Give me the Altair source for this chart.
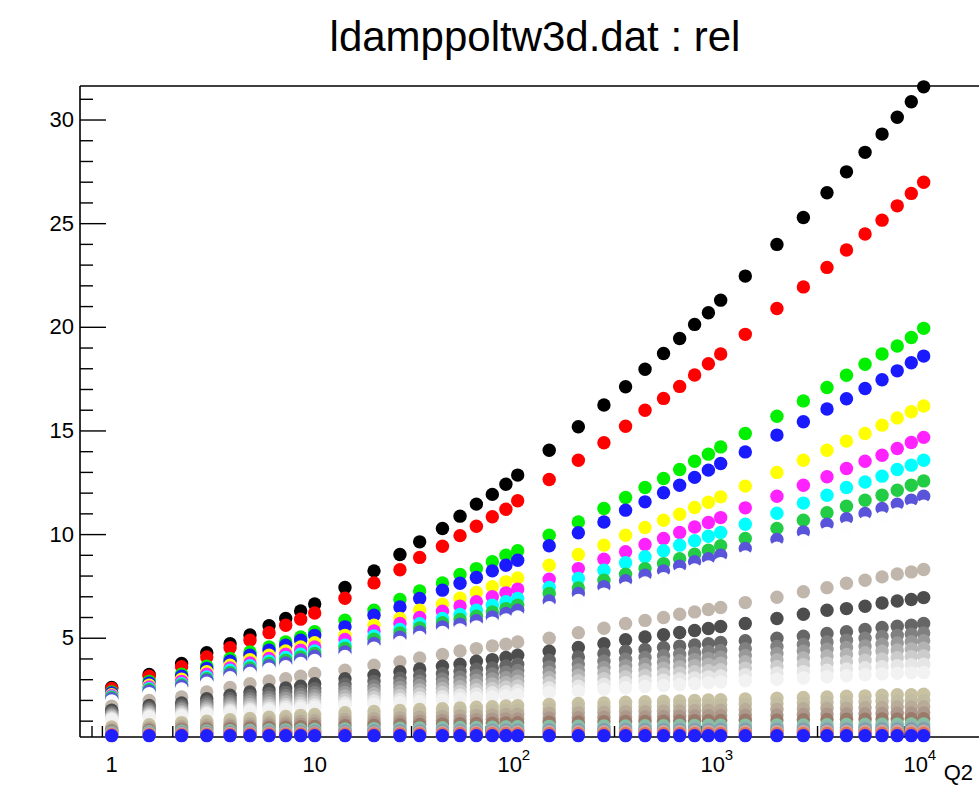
import altair as alt
import pandas as pd

# ---------------- data ----------------
Q2 = [1, 1.53, 2.21, 2.94, 3.83, 4.8, 5.96, 7.2, 8.53, 10,
      14.1, 19.6, 26.3, 32.9, 42.6, 52, 62.6, 75, 87.5, 100,
      143, 199, 266, 340, 424, 523, 628, 744, 870, 1000,
      1322, 1893, 2555, 3340, 4166, 5143, 6237, 7410, 8690, 10000]

S01 = [2.62, 3.25, 3.78, 4.3, 4.74, 5.16, 5.6, 5.95, 6.32, 6.65,
       7.45, 8.25, 9.04, 9.65, 10.29, 10.89, 11.47, 11.94, 12.43, 12.87,
       14.07, 15.2, 16.25, 17.13, 17.98, 18.74, 19.46, 20.14, 20.7, 21.31,
       22.47, 24.0, 25.3, 26.49, 27.5, 28.44, 29.32, 30.13, 30.88, 31.6]
S02 = [2.58, 3.17, 3.63, 4.1, 4.54, 4.9, 5.27, 5.63, 5.92, 6.22,
       6.93, 7.67, 8.3, 8.9, 9.44, 9.95, 10.4, 10.86, 11.22, 11.63,
       12.66, 13.59, 14.43, 15.23, 16.0, 16.57, 17.15, 17.7, 18.24, 18.71,
       19.66, 20.91, 21.95, 22.89, 23.73, 24.5, 25.17, 25.86, 26.46, 27.0]
S03 = [2.41, 2.92, 3.26, 3.65, 4.02, 4.34, 4.58, 4.82, 5.06, 5.31,
       5.87, 6.35, 6.87, 7.28, 7.67, 8.08, 8.36, 8.69, 9.0, 9.22,
       9.97, 10.61, 11.26, 11.79, 12.27, 12.71, 13.14, 13.54, 13.88, 14.23,
       14.88, 15.71, 16.45, 17.1, 17.69, 18.22, 18.71, 19.1, 19.51, 19.95]
S04 = [2.36, 2.84, 3.17, 3.54, 3.89, 4.18, 4.42, 4.66, 4.9, 5.14,
       5.55, 6.11, 6.51, 6.92, 7.32, 7.65, 7.93, 8.25, 8.52, 8.76,
       9.46, 10.09, 10.61, 11.18, 11.58, 12.02, 12.38, 12.76, 13.11, 13.43,
       13.99, 14.8, 15.44, 16.06, 16.55, 17.05, 17.47, 17.9, 18.29, 18.61]
S05 = [2.28, 2.73, 3.02, 3.38, 3.7, 3.97, 4.18, 4.39, 4.58, 4.78,
       5.14, 5.63, 5.95, 6.35, 6.64, 6.93, 7.21, 7.48, 7.72, 7.91,
       8.52, 9.04, 9.49, 9.97, 10.34, 10.69, 10.98, 11.31, 11.56, 11.82,
       12.34, 13.0, 13.59, 14.07, 14.51, 14.88, 15.28, 15.63, 15.93, 16.2]
S06 = [2.23, 2.65, 2.92, 3.26, 3.57, 3.81, 4.02, 4.23, 4.42, 4.58,
       4.94, 5.35, 5.71, 6.0, 6.3, 6.55, 6.76, 7.0, 7.19, 7.37,
       7.85, 8.36, 8.81, 9.17, 9.52, 9.81, 10.1, 10.37, 10.58, 10.82,
       11.29, 11.85, 12.38, 12.79, 13.19, 13.54, 13.83, 14.15, 14.44, 14.69]
S07 = [2.17, 2.57, 2.81, 3.13, 3.46, 3.67, 3.89, 4.07, 4.23, 4.39,
       4.66, 5.11, 5.42, 5.7, 5.95, 6.15, 6.35, 6.59, 6.76, 6.92,
       7.45, 7.88, 8.28, 8.64, 8.93, 9.22, 9.49, 9.7, 9.92, 10.1,
       10.5, 11.03, 11.52, 11.9, 12.27, 12.54, 12.82, 13.14, 13.35, 13.59]
S08 = [2.14, 2.52, 2.75, 3.05, 3.35, 3.57, 3.78, 3.94, 4.1, 4.26,
       4.52, 4.95, 5.25, 5.5, 5.75, 5.9, 6.06, 6.27, 6.43, 6.59,
       7.16, 7.42, 7.8, 8.09, 8.36, 8.6, 8.84, 9.05, 9.25, 9.46,
       9.81, 10.3, 10.69, 11.05, 11.37, 11.66, 11.9, 12.14, 12.38, 12.59]
S09 = [2.08, 2.45, 2.68, 2.97, 3.25, 3.46, 3.67, 3.81, 3.97, 4.13,
       4.34, 4.75, 5.05, 5.3, 5.55, 5.68, 5.84, 6.03, 6.19, 6.35,
       6.8, 7.16, 7.48, 7.77, 8.04, 8.25, 8.47, 8.69, 8.84, 9.0,
       9.33, 9.76, 10.13, 10.5, 10.77, 11.02, 11.26, 11.47, 11.66, 11.85]
S10 = [1.98, 2.33, 2.55, 2.83, 3.1, 3.3, 3.5, 3.63, 3.78, 3.93,
       4.12, 4.52, 4.8, 5.04, 5.28, 5.4, 5.55, 5.73, 5.88, 6.03,
       6.47, 6.82, 7.13, 7.41, 7.67, 7.87, 8.08, 8.29, 8.44, 8.6,
       8.92, 9.34, 9.7, 10.06, 10.32, 10.56, 10.8, 11.0, 11.18, 11.37]
S11 = [1.72, 2.0, 2.17, 2.41, 2.62, 2.81, 2.94, 3.05, 3.17, 3.3,
       3.46, 3.7, 3.86, 4.05, 4.22, 4.39, 4.5, 4.63, 4.71, 4.82,
       5.0, 5.27, 5.48, 5.71, 5.86, 6.0, 6.16, 6.27, 6.39, 6.48,
       6.72, 6.98, 7.24, 7.44, 7.65, 7.8, 7.96, 8.1, 8.2, 8.32]
S12 = [1.53, 1.76, 1.88, 2.08, 2.25, 2.41, 2.52, 2.6, 2.68, 2.81,
       3.05, 3.21, 3.38, 3.52, 3.65, 3.75, 3.89, 3.97, 4.07, 4.18,
       4.37, 4.55, 4.74, 4.93, 5.06, 5.17, 5.28, 5.37, 5.47, 5.57,
       5.71, 5.95, 6.16, 6.35, 6.43, 6.54, 6.7, 6.8, 6.87, 6.96]
S13 = [1.43, 1.64, 1.75, 1.93, 2.08, 2.22, 2.32, 2.39, 2.46, 2.57,
       2.78, 2.92, 3.07, 3.19, 3.3, 3.39, 3.5, 3.57, 3.66, 3.75,
       3.94, 4.1, 4.25, 4.37, 4.46, 4.55, 4.62, 4.68, 4.74, 4.8,
       4.88, 5.0, 5.1, 5.23, 5.31, 5.42, 5.52, 5.58, 5.63, 5.71]
S14 = [1.36, 1.55, 1.65, 1.81, 1.95, 2.07, 2.16, 2.23, 2.3, 2.39,
       2.57, 2.7, 2.83, 2.93, 3.03, 3.12, 3.21, 3.28, 3.36, 3.44,
       3.62, 3.76, 3.89, 3.99, 4.07, 4.16, 4.23, 4.29, 4.35, 4.41,
       4.49, 4.6, 4.7, 4.82, 4.9, 5.0, 5.08, 5.14, 5.2, 5.25]
S15 = [1.3, 1.47, 1.56, 1.7, 1.83, 1.94, 2.02, 2.09, 2.15, 2.23,
       2.39, 2.51, 2.62, 2.72, 2.8, 2.88, 2.97, 3.03, 3.1, 3.18,
       3.35, 3.47, 3.59, 3.68, 3.76, 3.84, 3.91, 3.97, 4.03, 4.09,
       4.17, 4.27, 4.37, 4.47, 4.55, 4.63, 4.71, 4.77, 4.83, 4.88]
S16 = [1.24, 1.39, 1.47, 1.6, 1.71, 1.81, 1.88, 1.94, 2.0, 2.07,
       2.21, 2.32, 2.42, 2.51, 2.58, 2.66, 2.74, 2.8, 2.86, 2.93,
       3.1, 3.21, 3.32, 3.41, 3.48, 3.56, 3.62, 3.68, 3.74, 3.8,
       3.87, 3.96, 4.05, 4.14, 4.22, 4.3, 4.37, 4.43, 4.48, 4.52]
S17 = [1.18, 1.32, 1.39, 1.5, 1.6, 1.69, 1.75, 1.8, 1.86, 1.92,
       2.04, 2.14, 2.23, 2.31, 2.38, 2.45, 2.52, 2.58, 2.64, 2.7,
       2.85, 2.95, 3.05, 3.13, 3.2, 3.27, 3.33, 3.38, 3.43, 3.48,
       3.55, 3.64, 3.72, 3.8, 3.87, 3.94, 4.0, 4.06, 4.11, 4.15]
S18 = [1.12, 1.25, 1.31, 1.41, 1.5, 1.58, 1.63, 1.68, 1.73, 1.78,
       1.88, 1.97, 2.05, 2.12, 2.18, 2.25, 2.31, 2.37, 2.42, 2.47,
       2.6, 2.69, 2.78, 2.86, 2.92, 2.98, 3.03, 3.08, 3.13, 3.18,
       3.24, 3.32, 3.39, 3.46, 3.52, 3.58, 3.63, 3.68, 3.72, 3.75]
S19 = [1.07, 1.19, 1.24, 1.33, 1.41, 1.48, 1.53, 1.57, 1.61, 1.66,
       1.75, 1.82, 1.89, 1.95, 2.01, 2.07, 2.12, 2.17, 2.22, 2.27,
       2.38, 2.46, 2.54, 2.61, 2.67, 2.72, 2.77, 2.81, 2.85, 2.89,
       2.95, 3.02, 3.08, 3.14, 3.19, 3.24, 3.28, 3.31, 3.33, 3.35]
S20 = [0.72, 0.83, 0.93, 1.0, 1.07, 1.13, 1.19, 1.23, 1.28, 1.32,
       1.41, 1.47, 1.52, 1.56, 1.6, 1.64, 1.67, 1.7, 1.73, 1.75,
       1.81, 1.85, 1.88, 1.91, 1.94, 1.96, 1.98, 2.0, 2.02, 2.03,
       2.07, 2.11, 2.14, 2.17, 2.2, 2.22, 2.25, 2.27, 2.28, 2.3]
S22 = [0.66, 0.75, 0.84, 0.9, 0.96, 1.01, 1.06, 1.1, 1.14, 1.17,
       1.25, 1.3, 1.34, 1.38, 1.42, 1.45, 1.47, 1.5, 1.52, 1.54,
       1.6, 1.63, 1.66, 1.68, 1.7, 1.72, 1.74, 1.76, 1.77, 1.78,
       1.81, 1.84, 1.87, 1.9, 1.92, 1.94, 1.96, 1.97, 1.99, 2.0]
S24 = [0.6, 0.68, 0.74, 0.8, 0.84, 0.88, 0.92, 0.96, 0.99, 1.02,
       1.08, 1.12, 1.16, 1.19, 1.22, 1.25, 1.27, 1.3, 1.32, 1.33,
       1.38, 1.4, 1.43, 1.45, 1.46, 1.48, 1.49, 1.5, 1.52, 1.53,
       1.55, 1.57, 1.6, 1.62, 1.63, 1.65, 1.66, 1.68, 1.69, 1.7]
S26 = [0.55, 0.61, 0.66, 0.7, 0.74, 0.77, 0.8, 0.83, 0.85, 0.87,
       0.92, 0.95, 0.98, 1.0, 1.03, 1.05, 1.07, 1.09, 1.1, 1.11,
       1.15, 1.17, 1.19, 1.2, 1.21, 1.23, 1.24, 1.25, 1.26, 1.26,
       1.28, 1.3, 1.32, 1.34, 1.35, 1.36, 1.37, 1.38, 1.39, 1.4]
S28 = [0.5, 0.55, 0.58, 0.61, 0.64, 0.67, 0.69, 0.71, 0.73, 0.74,
       0.78, 0.8, 0.83, 0.84, 0.86, 0.88, 0.89, 0.9, 0.91, 0.92,
       0.95, 0.96, 0.97, 0.98, 0.99, 1.0, 1.01, 1.02, 1.02, 1.03,
       1.04, 1.05, 1.07, 1.08, 1.09, 1.09, 1.1, 1.11, 1.12, 1.12]
S30 = [0.46, 0.49, 0.51, 0.53, 0.54, 0.55, 0.57, 0.58, 0.59, 0.6,
       0.62, 0.64, 0.66, 0.67, 0.68, 0.69, 0.7, 0.71, 0.72, 0.73,
       0.75, 0.76, 0.77, 0.77, 0.78, 0.78, 0.79, 0.79, 0.8, 0.8,
       0.81, 0.82, 0.82, 0.83, 0.84, 0.84, 0.85, 0.85, 0.86, 0.86]
S33 = [0.43, 0.45, 0.47, 0.48, 0.49, 0.5, 0.51, 0.52, 0.53, 0.53,
       0.55, 0.56, 0.57, 0.58, 0.59, 0.6, 0.61, 0.61, 0.62, 0.62,
       0.64, 0.65, 0.65, 0.66, 0.66, 0.66, 0.67, 0.67, 0.67, 0.68,
       0.68, 0.69, 0.69, 0.7, 0.7, 0.71, 0.71, 0.71, 0.72, 0.72]
S36 = [0.41, 0.42, 0.44, 0.45, 0.46, 0.46, 0.47, 0.48, 0.48, 0.49,
       0.5, 0.51, 0.52, 0.52, 0.53, 0.53, 0.54, 0.54, 0.55, 0.55,
       0.56, 0.56, 0.57, 0.57, 0.57, 0.58, 0.58, 0.58, 0.58, 0.59,
       0.59, 0.59, 0.6, 0.6, 0.6, 0.61, 0.61, 0.61, 0.62, 0.62]
S40 = [0.39, 0.4, 0.41, 0.41, 0.42, 0.43, 0.43, 0.43, 0.44, 0.44,
       0.45, 0.46, 0.46, 0.47, 0.47, 0.48, 0.48, 0.49, 0.49, 0.49,
       0.5, 0.5, 0.5, 0.51, 0.51, 0.51, 0.51, 0.51, 0.52, 0.52,
       0.52, 0.52, 0.53, 0.53, 0.53, 0.53, 0.54, 0.54, 0.54, 0.54]
S44 = [0.37, 0.38, 0.38, 0.39, 0.39, 0.39, 0.4, 0.4, 0.4, 0.4,
       0.41, 0.41, 0.42, 0.42, 0.42, 0.43, 0.43, 0.43, 0.43, 0.44,
       0.44, 0.44, 0.44, 0.45, 0.45, 0.45, 0.45, 0.45, 0.45, 0.45,
       0.46, 0.46, 0.46, 0.46, 0.46, 0.47, 0.47, 0.47, 0.47, 0.47]
S50 = [0.35, 0.35, 0.36, 0.36, 0.36, 0.37, 0.37, 0.37, 0.37, 0.38,
       0.38, 0.38, 0.38, 0.38, 0.38, 0.39, 0.39, 0.39, 0.39, 0.39,
       0.39, 0.39, 0.39, 0.39, 0.4, 0.4, 0.4, 0.4, 0.4, 0.4,
       0.4, 0.4, 0.4, 0.41, 0.41, 0.41, 0.41, 0.41, 0.41, 0.41]
S99 = [0.3, 0.3, 0.3, 0.3, 0.3, 0.3, 0.3, 0.3, 0.3, 0.3,
       0.3, 0.3, 0.3, 0.3, 0.3, 0.3, 0.3, 0.3, 0.3, 0.3,
       0.3, 0.3, 0.3, 0.3, 0.3, 0.3, 0.3, 0.3, 0.3, 0.3,
       0.3, 0.3, 0.3, 0.3, 0.3, 0.3, 0.3, 0.3, 0.3, 0.3]

SERIES = [
    ("s01", "#000000", S01), ("s02", "#ff0000", S02), ("s03", "#00f000", S03),
    ("s04", "#1a1aff", S04), ("s05", "#ffff00", S05), ("s06", "#ff22ff", S06),
    ("s07", "#00ffff", S07), ("s08", "#22cc44", S08), ("s09", "#5954d9", S09),
    ("s10", "#fefefe", S10), ("s11", "#c0b6ac", S11), ("s12", "#4d4d4d", S12),
    ("s13", "#666666", S13), ("s14", "#808080", S14), ("s15", "#999999", S15),
    ("s16", "#b3b3b3", S16), ("s17", "#cccccc", S17), ("s18", "#e6e6e6", S18),
    ("s19", "#f2f2f2", S19), ("s20", "#c8c2a3", S20), ("s22", "#c2bda2", S22),
    ("s24", "#b8ab98", S24), ("s26", "#ad998c", S26), ("s28", "#9a7a6a", S28),
    ("s30", "#85c2a3", S30), ("s33", "#8fb5b0", S33), ("s36", "#7a9aa6", S36),
    ("s40", "#aba6bf", S40), ("s44", "#d9a882", S44), ("s50", "#e07060", S50),
    ("s99", "#2020ff", S99),
]

Y_MAJOR = [5, 10, 15, 20, 25, 30]
Y_MAJOR_LABELS = ["5", "10", "15", "20", "25", "30"]
Y_MINOR = [1, 2, 3, 4, 6, 7, 8, 9, 11, 12, 13, 14, 16, 17, 18, 19,
           21, 22, 23, 24, 26, 27, 28, 29, 31]
X_MAJOR = [1, 10, 100, 1000, 10000]
X_MINOR = [0.8, 0.9, 2, 3, 4, 5, 6, 7, 8, 9, 20, 30, 40, 50, 60, 70, 80, 90,
           200, 300, 400, 500, 600, 700, 800, 900,
           2000, 3000, 4000, 5000, 6000, 7000, 8000, 9000]
X_PLAIN = [1, 10]
X_PLAIN_LABELS = ["1", "10"]
X_POW = [100, 1000, 10000]
X_POW_BASE = ["10", "10", "10"]
X_POW_EXP = ["2", "3", "4"]

TITLE = "ldamppoltw3d.dat : rel"
XTITLE = "Q2"

# ---------------- build ----------------
rows = []
for k, (name, color, vals) in enumerate(SERIES):
    for q, v in zip(Q2, vals):
        rows.append({"q2": q, "val": v, "sid": k, "name": name})
df = pd.DataFrame(rows)
names = [s[0] for s in SERIES]
colors = [s[1] for s in SERIES]

W, H = 899, 651
FONT = "Liberation Sans"
xs = alt.Scale(type="log", domain=[0.6981, 18730], nice=False)
ys = alt.Scale(domain=[0.2355, 31.641], nice=False, zero=False)
one = alt.Data(values=[{"a": 0}])

frame_left = alt.Chart(one).mark_rule(color="black", strokeWidth=1.6).encode(
    x=alt.value(0), y=alt.value(0), y2=alt.value(H))
frame_top = alt.Chart(one).mark_rule(color="black", strokeWidth=1.6).encode(
    y=alt.value(0), x=alt.value(0), x2=alt.value(W))
frame_bot = alt.Chart(one).mark_rule(color="black", strokeWidth=1.6).encode(
    y=alt.value(H), x=alt.value(0), x2=alt.value(W))

ymaj = alt.Chart(pd.DataFrame({"v": Y_MAJOR})).mark_rule(color="black", strokeWidth=1.4).encode(
    y=alt.Y("v:Q", scale=ys, axis=None), x=alt.value(0), x2=alt.value(26))
ymin = alt.Chart(pd.DataFrame({"v": Y_MINOR})).mark_rule(color="black", strokeWidth=1.4).encode(
    y=alt.Y("v:Q", scale=ys, axis=None), x=alt.value(0), x2=alt.value(13))
xmaj = alt.Chart(pd.DataFrame({"v": X_MAJOR})).mark_rule(color="black", strokeWidth=1.4).encode(
    x=alt.X("v:Q", scale=xs, axis=None), y=alt.value(H), y2=alt.value(H - 22))
xmin = alt.Chart(pd.DataFrame({"v": X_MINOR})).mark_rule(color="black", strokeWidth=1.4).encode(
    x=alt.X("v:Q", scale=xs, axis=None), y=alt.value(H), y2=alt.value(H - 11))

points = alt.Chart(df).mark_circle(size=180, opacity=1).encode(
    x=alt.X("q2:Q", scale=xs, axis=None),
    y=alt.Y("val:Q", scale=ys, axis=None),
    color=alt.Color("name:N", scale=alt.Scale(domain=names, range=colors), legend=None),
    order=alt.Order("sid:Q"),
)

ylab = alt.Chart(pd.DataFrame({"v": Y_MAJOR, "t": Y_MAJOR_LABELS})).mark_text(
    font=FONT, fontSize=22, align="right", baseline="middle", color="black", dx=-6).encode(
    y=alt.Y("v:Q", scale=ys, axis=None), x=alt.value(0), text="t:N")
xlab1 = alt.Chart(pd.DataFrame({"v": X_PLAIN, "t": X_PLAIN_LABELS})).mark_text(
    font=FONT, fontSize=22, align="center", baseline="alphabetic", color="black").encode(
    x=alt.X("v:Q", scale=xs, axis=None), y=alt.value(H + 35), text="t:N")
xlab2 = alt.Chart(pd.DataFrame({"v": X_POW, "t": X_POW_BASE})).mark_text(
    font=FONT, fontSize=22, align="center", baseline="alphabetic", color="black", dx=-8).encode(
    x=alt.X("v:Q", scale=xs, axis=None), y=alt.value(H + 35), text="t:N")
xlab3 = alt.Chart(pd.DataFrame({"v": X_POW, "t": X_POW_EXP})).mark_text(
    font=FONT, fontSize=15, align="left", baseline="alphabetic", color="black", dx=4).encode(
    x=alt.X("v:Q", scale=xs, axis=None), y=alt.value(H + 23), text="t:N")

xtitle = alt.Chart(alt.Data(values=[{"t": XTITLE}])).mark_text(
    font=FONT, fontSize=22, align="right", baseline="alphabetic", color="black").encode(
    x=alt.value(893), y=alt.value(H + 43), text="t:N")
title = alt.Chart(alt.Data(values=[{"t": TITLE}])).mark_text(
    font=FONT, fontSize=42, align="center", baseline="alphabetic", color="black").encode(
    x=alt.value(455), y=alt.value(-35), text="t:N")

chart = alt.layer(
    ymin, ymaj, xmin, xmaj, frame_left, frame_top, frame_bot,
    points, ylab, xlab1, xlab2, xlab3, xtitle, title,
).properties(
    width=W, height=H,
    autosize=alt.AutoSizeParams(type="none"),
    padding={"left": 80, "top": 86, "right": 0, "bottom": 61},
    background="white",
).configure_view(stroke=None)

chart.save("out.html", embed_options={"renderer": "svg", "actions": False})
